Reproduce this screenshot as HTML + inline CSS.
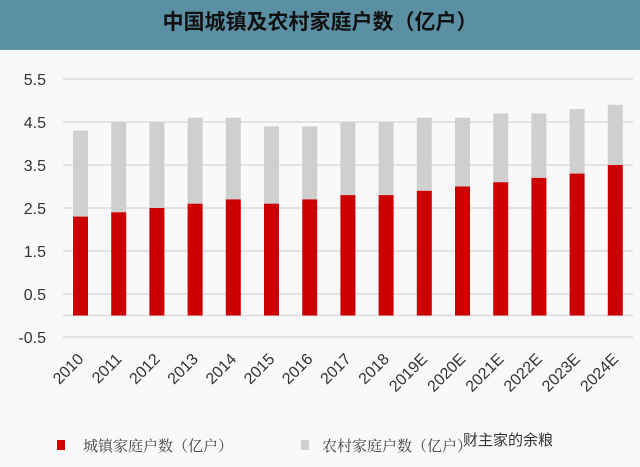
<!DOCTYPE html>
<html><head><meta charset="utf-8"><style>
html,body{margin:0;padding:0;background:#f9f9fb;}
svg{display:block}
text{font-family:"Liberation Sans","Noto Sans CJK SC",sans-serif;}
</style></head><body>
<svg width="640" height="467" viewBox="0 0 640 467" xmlns="http://www.w3.org/2000/svg">
<rect x="0" y="0" width="640" height="467" fill="#f9f9fb"/>
<rect x="0" y="0" width="640" height="50" fill="#5b8fa4"/>
<text x="320" y="29" text-anchor="middle" font-size="21" font-weight="bold" fill="#111" style="font-family:'Noto Sans CJK SC',sans-serif">中国城镇及农村家庭户数（亿户）</text>
<g stroke="#dcdcdc" stroke-width="1.5">
<line x1="63" x2="633" y1="79" y2="79"/>
<line x1="63" x2="633" y1="122" y2="122"/>
<line x1="63" x2="633" y1="165" y2="165"/>
<line x1="63" x2="633" y1="208" y2="208"/>
<line x1="63" x2="633" y1="251" y2="251"/>
<line x1="63" x2="633" y1="294" y2="294"/>
<line x1="63" x2="633" y1="337" y2="337"/>
<line x1="63" x2="633" y1="315.5" y2="315.5"/>
</g>
<g font-size="16" fill="#333" text-anchor="end">
<text x="46" y="85">5.5</text>
<text x="46" y="128">4.5</text>
<text x="46" y="171">3.5</text>
<text x="46" y="214">2.5</text>
<text x="46" y="257">1.5</text>
<text x="46" y="300">0.5</text>
<text x="46" y="343">-0.5</text>
</g>
<g id="bars"></g>
<g id="labels" font-size="16" fill="#333" text-anchor="end"></g>
<rect x="57" y="440" width="8" height="10" fill="#d00000"/>
<text x="83" y="451" font-size="15" fill="#444" style="font-family:'Noto Serif CJK SC',serif">城镇家庭户数（亿户）</text>
<rect x="301" y="440" width="8" height="10" fill="#d0d0d0"/>
<text x="322" y="451" font-size="15" fill="#444" style="font-family:'Noto Serif CJK SC',serif">农村家庭户数（亿户）</text>
<text x="508" y="445" font-size="15" fill="#333" text-anchor="middle">财主家的余粮</text>
<script>
var red=[2.3,2.4,2.5,2.6,2.7,2.6,2.7,2.8,2.8,2.9,3.0,3.1,3.2,3.3,3.5];
var tot=[4.3,4.5,4.5,4.6,4.6,4.4,4.4,4.5,4.5,4.6,4.6,4.7,4.7,4.8,4.9];
var yrs=["2010","2011","2012","2013","2014","2015","2016","2017","2018","2019E","2020E","2021E","2022E","2023E","2024E"];
var b=document.getElementById("bars"),l=document.getElementById("labels"),ns="http://www.w3.org/2000/svg";
var y0=315.5,u=43;
for(var i=0;i<15;i++){var cx=80.5+i*38.2;
var g=document.createElementNS(ns,"rect");g.setAttribute("x",cx-7.5);g.setAttribute("width",15);g.setAttribute("y",y0-tot[i]*u);g.setAttribute("height",(tot[i]-red[i])*u);g.setAttribute("fill","#cfcfcf");b.appendChild(g);
var r=document.createElementNS(ns,"rect");r.setAttribute("x",cx-7.5);r.setAttribute("width",15);r.setAttribute("y",y0-red[i]*u);r.setAttribute("height",red[i]*u);r.setAttribute("fill","#cc0000");b.appendChild(r);
var t=document.createElementNS(ns,"text");var tx=cx+4,ty=360;t.setAttribute("x",tx);t.setAttribute("y",ty);t.setAttribute("transform","rotate(-45 "+tx+" "+ty+")");t.textContent=yrs[i];l.appendChild(t);}
</script>
</svg>
</body></html>
